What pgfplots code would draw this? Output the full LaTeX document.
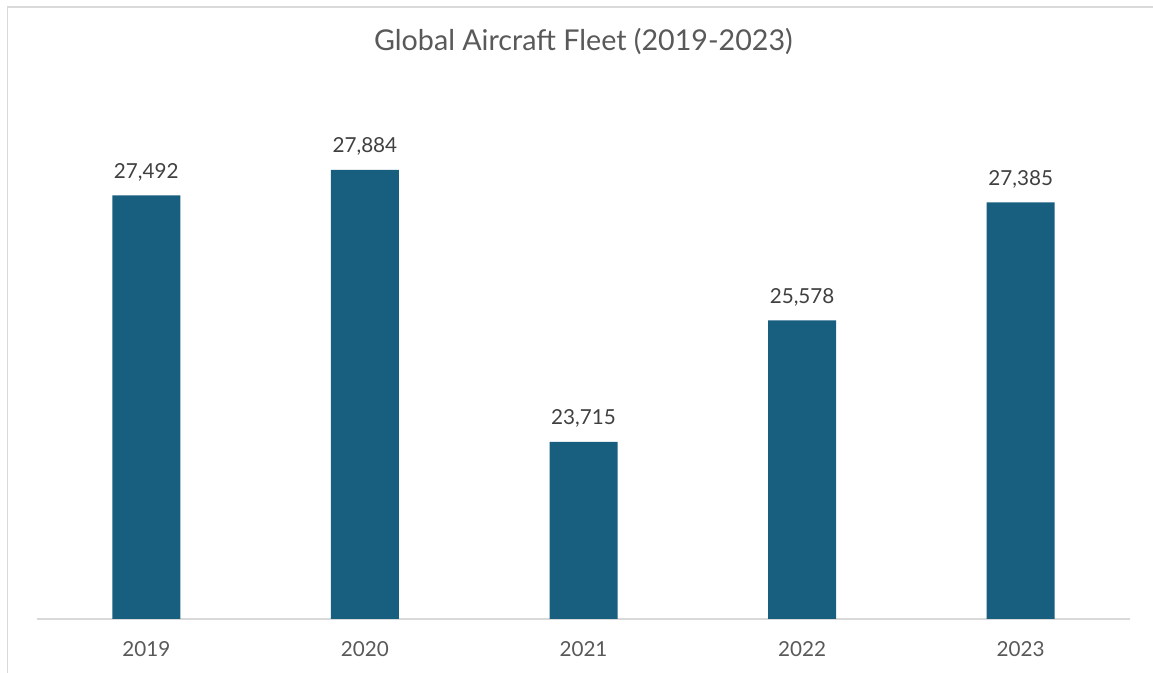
\documentclass[border=0pt]{standalone}
\usepackage{fontspec}
\setmainfont{Lato}
\usepackage{pgfplots}
\pgfplotsset{compat=1.18}
\definecolor{barblue}{RGB}{23,94,127}
\definecolor{titlegray}{RGB}{89,89,89}
\definecolor{labelgray}{RGB}{64,64,64}
\definecolor{tickgray}{RGB}{89,89,89}
\definecolor{axisgray}{RGB}{217,217,217}
\begin{document}
\begin{tikzpicture}[x=1pt,y=1pt]
\useasboundingbox (0,0) rectangle (864.75,504.75);
\draw[axisgray, line width=1.1pt] (5.5,0) -- (5.5,499.5) -- (864.75,499.5);
\node[anchor=base, font=\fontsize{21.5}{25}\selectfont, text=titlegray] at (437.6,467) {Global Aircraft Fleet (2019-2023)};
\begin{axis}[
  at={(27.75pt,40.5pt)}, anchor=south west,
  scale only axis, width=819.75pt, height=391.5pt,
  xmin=-0.5, xmax=4.5, ymin=21000, ymax=29000,
  axis y line=none, axis x line*=bottom,
  x axis line style={axisgray, line width=1.1pt},
  xtick={0,1,2,3,4}, xticklabels={2019,2020,2021,2022,2023},
  major tick length=0pt,
  xticklabel style={anchor=base, yshift=-28.5pt, font=\fontsize{15.5}{18}\selectfont, text=tickgray},
  /pgf/number format/assume math mode=true,
  /pgf/number format/1000 sep={,},
  ybar, bar width=51pt, bar shift=0pt,
  nodes near coords={\pgfmathprintnumber{\pgfplotspointmeta}},
  nodes near coords style={anchor=base, inner sep=0pt, yshift=12.75pt, font=\fontsize{15.5}{18}\selectfont, text=labelgray},
  clip=false,
]
\addplot[fill=barblue, draw=none] coordinates {(0,27492) (1,27884) (2,23715) (3,25578) (4,27385)};
\end{axis}
\end{tikzpicture}
\end{document}
